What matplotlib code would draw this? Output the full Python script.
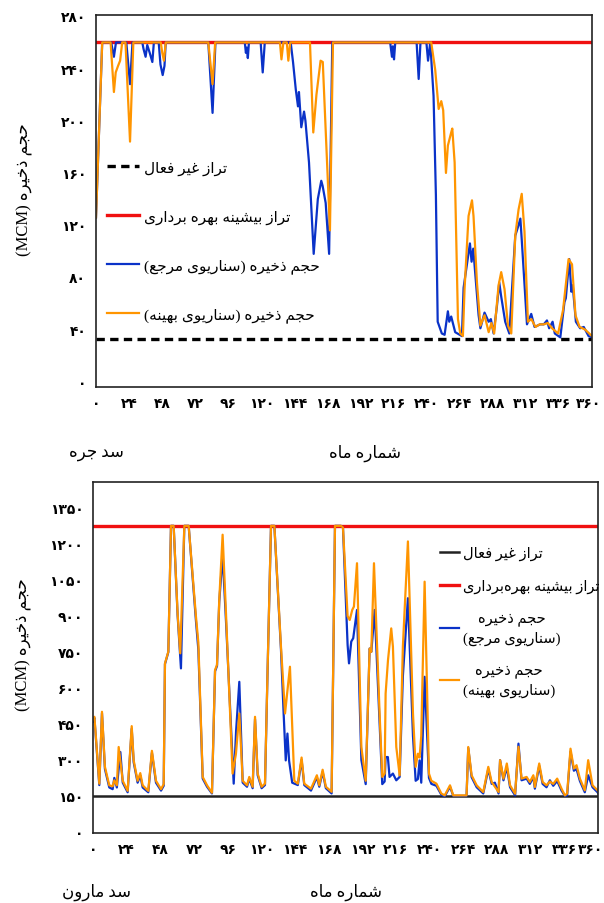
import matplotlib
matplotlib.use("Agg")
import matplotlib.pyplot as plt
import matplotlib.transforms as mtransforms

plt.rcParams['font.family'] = ['Liberation Serif', 'DejaVu Sans']

# Jareh dam storage (MCM), breakpoints as (month, volume)
jareh_ref_months = [0, 4.5, 11, 13, 14.5, 22, 24.7, 26.5, 33.6, 34.5, 36, 37.2, 39, 40.9, 42, 45.5, 46.8, 48.4,
                    49.7, 50.6, 81.5, 84.6, 86.7, 108, 108.8, 109.5, 110.2, 111, 119.5, 121, 122.5, 141.3, 143,
                    145, 146.6, 147.3, 149, 151, 152, 154.6, 158, 161, 163.5, 164.5, 166.7, 169.2, 171.5, 213.5,
                    214.8, 215.5, 216.3, 217.2, 232.7, 234.2, 235.5, 239.8, 241, 242.6, 245, 246.7, 248, 251, 253,
                    255.4, 256.4, 257.8, 260.7, 265.6, 266.8, 271.4, 272.6, 273.8, 277.7, 279, 282, 285, 286.6,
                    288.6, 291, 292.7, 294, 297, 300, 304.3, 306.7, 308, 309, 312.8, 315.9, 318.3, 322.4, 325,
                    327.3, 328.9, 331.4, 333, 337, 340, 341, 343.5, 345, 346, 348.3, 351.4, 354, 357.5, 360]
jareh_ref = [126, 260, 260, 249, 260, 260, 228, 260, 260, 255, 249, 258, 252, 245, 260, 260, 243, 235,
             242, 260, 260, 206, 260, 260, 252, 256, 248, 260, 260, 237, 260, 260, 245,
             224, 211, 222, 195, 207, 200, 168, 98, 140, 154, 150, 137, 98, 260, 260,
             249, 257, 247, 260, 260, 232, 260, 260, 246, 260, 219, 143, 46, 37, 36,
             54, 46, 50, 38, 35, 72, 106, 92, 102, 51, 41, 53, 46, 48,
             37, 58, 76, 66, 46, 37, 112, 120, 125, 109, 44, 52, 42, 44, 44,
             47, 41, 46, 37, 34, 61, 64, 94, 69, 74, 46, 41, 42, 35, 34]

jareh_opt_months = [0, 4.5, 10.6, 13, 14.3, 16, 17.5, 19, 21.4, 24.7, 27.1, 47, 48.1, 49.3, 50.6, 81.5, 84.6,
                    86.5, 133.5, 134.6, 136, 138.5, 139.6, 141, 155.3, 157.7, 160, 163, 164.6, 169.8, 172,
                    243.3, 246.2, 248.7, 250.6, 252, 254, 255.4, 257.8, 258.6, 260.3, 262.7, 264.4, 266.3,
                    267.5, 270.4, 272.9, 274, 276.5, 279, 282, 285, 287, 289, 292.2, 294.1, 296.5, 299, 301.4,
                    304.3, 306.7, 309, 311, 313.5, 316, 319, 322, 325, 328, 331, 335.4, 339, 343, 345.5, 348,
                    351, 355, 360]
jareh_opt = [126, 260, 260, 222, 237, 242, 246, 260, 260, 184, 260, 260, 252, 246, 260, 260, 228,
             260, 260, 247, 260, 260, 246, 260, 260, 191, 220, 246, 245, 116, 260,
             260, 239, 209, 215, 208, 160, 181, 191, 194, 168, 48, 37, 35,
             71, 127, 139, 127, 76, 43, 51, 38, 45, 37, 74, 84, 71, 43, 37,
             112, 132, 144, 115, 46, 48, 42, 44, 44, 45, 41, 37, 55, 94, 90, 51,
             42, 40, 35]

# Maroon dam storage (MCM)
maroon_ref_months = [0, 1, 4.5, 6.4, 8.5, 11.6, 14, 15.2, 17, 19.5, 21.2, 24.7, 27.6, 29, 31.8, 33.7, 35.4,
                     39.4, 42, 44.9, 48.5, 50.4, 51.3, 53.7, 55.6, 57.5, 60.3, 62.7, 65.1, 68.2, 73.4, 75.1,
                     78.2, 81.3, 84.8, 87, 88.4, 90, 92.4, 94.8, 100.3, 102, 104.3, 106.7, 109.8, 111.4, 113.8,
                     115.5, 117.4, 120.2, 122.6, 124.5, 126.9, 129.3, 134, 135.9, 137.4, 138.6, 139.8, 142, 146,
                     148.7, 150.6, 155.4, 159.6, 161.3, 163.7, 166, 170.1, 172.5, 176.8, 178.2, 181.5, 182.5,
                     184.1, 185.5, 188.2, 191.3, 194.4, 197.2, 198.4, 200.8, 204.3, 206.2, 207.9, 208.6, 210.2,
                     211.4, 213.8, 216.2, 218.6, 220.9, 224.5, 228.1, 230, 231.6, 232.8, 234, 236.4, 239.5,
                     241.2, 244.8, 248.3, 250.7, 254.5, 256.8, 266.3, 267.5, 269.9, 273.5, 278.2, 281.8, 284.2,
                     286.5, 289.1, 290.2, 292.6, 295, 297.3, 300.9, 303.3, 305.5, 309.1, 311.4, 313.9, 315,
                     318.1, 320.5, 323.3, 325.7, 328.1, 330.9, 334, 336.4, 338, 340.4, 342.8, 344.7, 347.1,
                     350.6, 353, 356.1, 359.7, 360]
maroon_ref = [460, 475, 195, 495, 262, 185, 178, 225, 185, 333, 205, 165, 430, 290, 205, 235, 185,
              165, 330, 205, 172, 192, 700, 750, 1277, 1277, 905, 682, 1277, 1277, 880, 760,
              222, 188, 160, 670, 692, 960, 1156, 880, 201, 420, 626, 205, 188, 222, 182,
              470, 236, 182, 195, 685, 1277, 1277, 760, 494, 298, 410, 296, 205, 195,
              300, 195, 172, 228, 188, 250, 182, 160, 1277, 1277, 1270, 780, 703,
              794, 808, 926, 300, 199, 765, 751, 926, 450, 199, 210, 312, 312,
              229, 243, 215, 229, 650, 975, 400, 213, 220, 298, 205, 647, 225,
              200, 192, 155, 148, 188, 150, 150, 350, 228, 186, 160, 262, 200,
              205, 160, 299, 215, 270, 186, 152, 368, 215, 222, 200, 228, 180,
              275, 200, 186, 215, 192, 212, 172, 150, 152, 335, 255, 262, 212,
              165, 236, 186, 165, 162]

maroon_opt_months = [0, 1, 4.5, 6.4, 8.5, 11.6, 14, 15.2, 17, 18.3, 21.2, 24.7, 27.6, 29, 31.8, 33.7, 35.4,
                     39.4, 42, 44.9, 48.5, 50.4, 51.3, 53.7, 55.6, 57.5, 60.3, 62.2, 65.1, 68.2, 73.4, 75.1,
                     78.2, 81.3, 84.8, 87, 88.4, 90, 92.4, 94.8, 99.5, 101.9, 104.3, 106.7, 109.8, 111.4, 113.8,
                     115.5, 117.4, 120.2, 122.6, 124.5, 126.9, 129.3, 134, 136.9, 140.4, 143.5, 146, 148.7, 150.6,
                     155.4, 159.6, 161.3, 163.7, 166, 170.1, 172.5, 176.8, 178.2, 181.5, 183, 184.8, 186, 188.2,
                     191.3, 194.4, 197.2, 198.4, 200.3, 204.3, 206.2, 207.9, 208.6, 210.3, 212.6, 213.8, 216.2,
                     218.6, 220.9, 224.5, 228.1, 230, 231.6, 232.8, 234, 236.4, 239.5, 241.2, 244.8, 248.3,
                     250.7, 254.5, 256.8, 266.3, 267.5, 269.9, 273.5, 278.2, 281.8, 284.2, 289.1, 290.2, 292.6,
                     295, 297.3, 300.9, 303.3, 305.5, 309.1, 311.4, 313.9, 315, 318.1, 320.5, 323.3, 325.7,
                     328.1, 330.9, 334, 336.4, 338, 340.4, 342.8, 344.7, 347.1, 350.6, 353, 356.1, 359.7, 360]
maroon_opt = [470, 480, 201, 501, 271, 194, 190, 215, 194, 354, 213, 171, 441, 298, 213, 245, 194,
              171, 338, 213, 178, 199, 703, 752, 1277, 1277, 912, 745, 1277, 1277, 898, 790,
              229, 194, 163, 675, 697, 968, 1240, 912, 243, 326, 494, 213, 194, 229, 188,
              480, 243, 188, 201, 689, 1277, 1277, 773, 494, 689, 213, 201, 310, 201,
              180, 236, 194, 259, 188, 167, 1277, 1277, 1270, 900, 884, 926, 940, 1121,
              354, 213, 765, 751, 1121, 494, 229, 243, 577, 717, 849, 773, 354,
              236, 773, 1212, 494, 271, 326, 310, 400, 1044, 243, 213, 201, 160,
              152, 194, 152, 152, 354, 236, 194, 166, 271, 208, 166, 299, 222,
              285, 194, 159, 355, 222, 229, 208, 236, 187, 285, 208, 194, 210,
              200, 222, 180, 152, 160, 347, 264, 278, 222, 173, 299, 194, 173, 170]

jareh_dead, jareh_max = 33, 260
maroon_dead, maroon_max = 148, 1277

month_ticks = list(range(0, 361, 24))
jareh_yticks = list(range(0, 281, 40))
maroon_yticks = list(range(0, 1351, 150))

# Arabic presentation forms: isolated, final, initial, medial
FORMS = {
    'ا': ('\uFE8D', '\uFE8E', None, None),
    'ب': ('\uFE8F', '\uFE90', '\uFE91', '\uFE92'),
    'ت': ('\uFE95', '\uFE96', '\uFE97', '\uFE98'),
    'ج': ('\uFE9D', '\uFE9E', '\uFE9F', '\uFEA0'),
    'ح': ('\uFEA1', '\uFEA2', '\uFEA3', '\uFEA4'),
    'خ': ('\uFEA5', '\uFEA6', '\uFEA7', '\uFEA8'),
    'د': ('\uFEA9', '\uFEAA', None, None),
    'ذ': ('\uFEAB', '\uFEAC', None, None),
    'ر': ('\uFEAD', '\uFEAE', None, None),
    'ز': ('\uFEAF', '\uFEB0', None, None),
    'س': ('\uFEB1', '\uFEB2', '\uFEB3', '\uFEB4'),
    'ش': ('\uFEB5', '\uFEB6', '\uFEB7', '\uFEB8'),
    'ع': ('\uFEC9', '\uFECA', '\uFECB', '\uFECC'),
    'غ': ('\uFECD', '\uFECE', '\uFECF', '\uFED0'),
    'ف': ('\uFED1', '\uFED2', '\uFED3', '\uFED4'),
    'ل': ('\uFEDD', '\uFEDE', '\uFEDF', '\uFEE0'),
    'م': ('\uFEE1', '\uFEE2', '\uFEE3', '\uFEE4'),
    'ن': ('\uFEE5', '\uFEE6', '\uFEE7', '\uFEE8'),
    'ه': ('\uFEE9', '\uFEEA', '\uFEEB', '\uFEEC'),
    'و': ('\uFEED', '\uFEEE', None, None),
    'ی': ('\uFBFC', '\uFBFD', '\uFBFE', '\uFBFF'),
}
MIRROR = str.maketrans('()', ')(')
FA_DIGITS = str.maketrans('0123456789', '۰۱۲۳۴۵۶۷۸۹')


def shape(word):
    out = []
    for i, ch in enumerate(word):
        if ch not in FORMS:
            out.append(ch)
            continue
        iso, fin, ini, med = FORMS[ch]
        prev = word[i - 1] if i > 0 else ''
        nxt = word[i + 1] if i + 1 < len(word) else ''
        jp = prev in FORMS and FORMS[prev][2] is not None
        jn = ini is not None and nxt in FORMS
        out.append(med if jp and jn else fin if jp else ini if jn else iso)
    return ''.join(out).replace('\u200c', '')


def rtl(text):
    return '\n'.join(shape(l)[::-1].translate(MIRROR) for l in text.split('\n'))


def fa(n):
    return str(n).translate(FA_DIGITS)


def style_axes(ax, yticks, ylim, last_shift):
    ax.set_xlim(0, 360)
    ax.set_ylim(*ylim)
    ax.set_xticks(month_ticks)
    ax.set_xticklabels([fa(t) for t in month_ticks])
    ax.set_yticks(yticks)
    ax.set_yticklabels([fa(t) for t in yticks])
    ax.tick_params(length=0, labelsize=10, pad=7)
    for lab in ax.get_xticklabels() + ax.get_yticklabels():
        lab.set_fontweight('bold')
    # keep the last month label inside the figure
    last = ax.get_xticklabels()[-1]
    last.set_transform(last.get_transform() +
                       mtransforms.ScaledTranslation(last_shift / 100, 0, fig.dpi_scale_trans))
    for s in ax.spines.values():
        s.set_linewidth(1.2)
        s.set_color('#222222')


BLUE = '#0a32c8'
ORANGE = '#ff9500'
RED = '#f01010'

fig = plt.figure(figsize=(6.04, 9.04), dpi=100)

# top: Jareh
ax1 = fig.add_axes([96 / 604, 1 - 388 / 904, 496 / 604, 372 / 904])
ax1.axhline(jareh_dead, color='black', lw=2.4, ls=(0, (2.5, 1.6)), label=rtl('تراز غیر فعال'))
ax1.axhline(jareh_max, color=RED, lw=2.4, label=rtl('تراز بیشینه بهره برداری'))
ax1.plot(jareh_ref_months, jareh_ref, color=BLUE, lw=1.6, label=rtl('حجم ذخیره (سناریوی مرجع)'))
ax1.plot(jareh_opt_months, jareh_opt, color=ORANGE, lw=1.6, label=rtl('حجم ذخیره (سناریوی بهینه)'))
style_axes(ax1, jareh_yticks, (-4, 281), -3)
ax1.legend(loc='upper left', bbox_to_anchor=(0.01, 0.625), frameon=False, fontsize=11,
           handlelength=2.1, handletextpad=0.3, labelspacing=2.26, borderaxespad=0)

# bottom: Maroon
ax2 = fig.add_axes([93 / 604, 1 - 834 / 904, 505 / 604, 351 / 904])
ax2.axhline(maroon_dead, color='#222222', lw=1.8, label=rtl('تراز غیر فعال'))
ax2.axhline(maroon_max, color=RED, lw=2.4, label=rtl('تراز بیشینه بهره\u200cبرداری'))
ax2.plot(maroon_ref_months, maroon_ref, color=BLUE, lw=1.6, label=rtl('حجم ذخیره\n(سناریوی مرجع)'))
ax2.plot(maroon_opt_months, maroon_opt, color=ORANGE, lw=1.6, label=rtl('حجم ذخیره\n(سناریوی بهینه)'))
style_axes(ax2, maroon_yticks, (-5, 1460), -7)
leg = ax2.legend(loc='upper left', bbox_to_anchor=(0.675, 0.835), frameon=False, fontsize=10.5,
                 handlelength=1.3, handletextpad=0.3, labelspacing=1.3, borderaxespad=0)
for t in leg.get_texts():
    t.set_multialignment('center')
    t.set_linespacing(1.5)

ylab = '(MCM) ' + rtl('حجم ذخیره')
fig.text(25 / 604, 1 - 190 / 904, ylab, rotation=90, ha='center', va='center', fontsize=12)
fig.text(24 / 604, 1 - 645 / 904, ylab, rotation=90, ha='center', va='center', fontsize=12)

fig.text(365 / 604, 1 - 453 / 904, rtl('شماره ماه'), ha='center', va='center', fontsize=12)
fig.text(96 / 604, 1 - 453 / 904, rtl('سد جره'), ha='center', va='center', fontsize=12)
fig.text(346 / 604, 1 - 892 / 904, rtl('شماره ماه'), ha='center', va='center', fontsize=12)
fig.text(97 / 604, 1 - 892 / 904, rtl('سد مارون'), ha='center', va='center', fontsize=12)

fig.savefig('out.png', dpi=100)
